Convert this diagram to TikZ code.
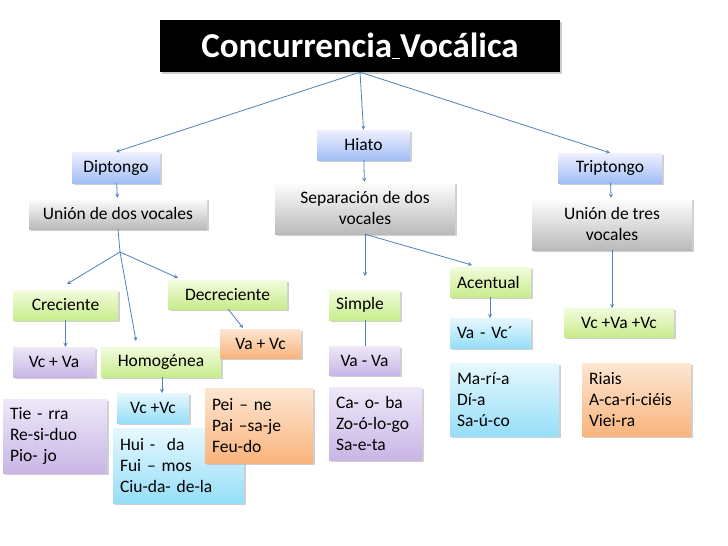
\documentclass[tikz,border=0pt]{standalone}
\usepackage{fontspec}
\setmainfont{Carlito}
\usetikzlibrary{shadows}
\definecolor{arr}{HTML}{4F81BD}
\tikzset{x=1pt,y=-1pt,
 bxs/.style={inner sep=2pt,font=\fontsize{17.5}{21}\selectfont,drop shadow={shadow xshift=1.5pt,shadow yshift=-1.5pt,fill=black!30,opacity=.6}},
 blu/.style={bxs,top color=blue!6,bottom color={rgb,255:red,160;green,190;blue,245}},
 gry/.style={bxs,top color=white,bottom color=black!27},
 grn/.style={bxs,top color={rgb,255:red,242;green,252;blue,222},bottom color={rgb,255:red,200;green,236;blue,140}},
 pur/.style={bxs,top color={rgb,255:red,238;green,232;blue,248},bottom color={rgb,255:red,200;green,182;blue,230}},
 org/.style={bxs,top color={rgb,255:red,253;green,230;blue,210},bottom color={rgb,255:red,249;green,180;blue,125}},
 cya/.style={bxs,top color={rgb,255:red,230;green,248;blue,254},bottom color={rgb,255:red,150;green,222;blue,248}},
 ar/.style={draw=arr,thick,->,>=stealth},
 ln/.style={draw=arr,thick}}
\newcommand\bx[7]{\node[#6,minimum width={(#4-#2)*1pt},minimum height={(#5-#3)*1pt}] (#1) at ({(#2+#4)/2},{(#3+#5)/2}) {#7};}
\newcommand\bl[7]{\node[#6,minimum width={(#4-#2)*1pt},minimum height={(#5-#3)*1pt},text width={(#4-#2-14)*1pt},align=left,inner xsep=7pt] (#1) at ({(#2+#4)/2},{(#3+#5)/2}) {#7};}
\begin{document}
\begin{tikzpicture}
\useasboundingbox[fill=white] (0,0) rectangle (728,546);
\node[fill=black,text=white,font=\fontsize{35}{40}\bfseries,minimum width=400pt,minimum height=52pt,drop shadow={shadow xshift=2pt,shadow yshift=-2pt,fill=black!40}] (t) at (360,46) {Concurrencia\underline{ }Vocálica};
\bx{hi}{317}{130}{410}{160}{blu}{Hiato}
\bx{di}{72}{152}{160}{183}{blu}{Diptongo}
\bx{tr}{558}{153}{662}{183}{blu}{Triptongo}
\bx{u2}{29}{198}{207}{229}{gry}{Unión de dos vocales}
\bx{se}{275}{182}{455}{234}{gry,align=center}{Separación de dos\\vocales}
\bx{u3}{532}{198}{692}{250}{gry,align=center}{Unión de tres\\vocales}
\bx{cr}{13}{290}{118}{320}{grn}{Creciente}
\bx{de}{168}{280}{287}{309}{grn}{Decreciente}
\bl{si}{329}{290}{400}{320}{grn}{Simple}
\bl{ac}{450}{267}{531}{297}{grn}{Acentual}
\bx{vvv}{564}{308}{674}{337}{grn}{Vc +Va +Vc}
\bx{vcva}{13}{347}{95}{377}{pur}{Vc + Va}
\bx{ho}{101}{347}{221}{377}{grn}{Homogénea}
\bx{vavc}{220}{329}{301}{358}{org}{Va + Vc}
\bx{vava}{329}{346}{400}{375}{pur}{Va - Va}
\bl{vavc2}{450}{318}{531}{348}{cya}{Va - Vc´}
\bl{e1}{3}{399}{107}{473}{pur}{Tie - rra\\Re-si-duo\\Pio- jo}
\bx{vcvc}{117}{393}{189}{423}{cya}{Vc +Vc}
\bl{e2}{113}{428}{244}{503}{cya}{Hui -\ \ da\\Fui – mos\\Ciu-da- de-la}
\bl{e3}{205}{388}{313}{463}{org}{Pei – ne\\Pai –sa-je\\Feu-do}
\bl{e4}{329}{387}{422}{460}{pur}{Ca- o- ba\\Zo-ó-lo-go\\Sa-e-ta}
\bl{e5}{450}{363}{559}{436}{cya}{Ma-rí-a\\Dí-a\\Sa-ú-co}
\bl{e6}{582}{363}{691}{436}{org}{Riais\\A-ca-ri-ciéis\\Viei-ra}
\draw[ar] (t.south) -- (di.north);
\draw[ar] (t.south) -- (hi.north);
\draw[ar] (t.south) -- (tr.north);
\draw[ar] (di) -- (u2);
\draw[ar] (hi) -- (se);
\draw[ar] (tr) -- (u3);
\coordinate (j) at (120,252);
\draw[ln] (u2.south) -- (j);
\draw[ar] (j) -- (67,284);
\draw[ar] (j) -- (178,278);
\draw[ar] (j) -- (136,341);
\draw[ar] (se.south) -- (365,276);
\draw[ar] (se.south) -- (472,265);
\draw[ar] (cr) -- (cr|-vcva.north);
\draw[ar] (228,309) -- (243,328);
\draw[ar] (162,377) -- (162,393);
\draw[ln] (si.south-|365,0) -- (365,346);
\draw[ar] (490,297) -- (490,318);
\draw[ar] (u3.south) -- (612,308);
\end{tikzpicture}
\end{document}
